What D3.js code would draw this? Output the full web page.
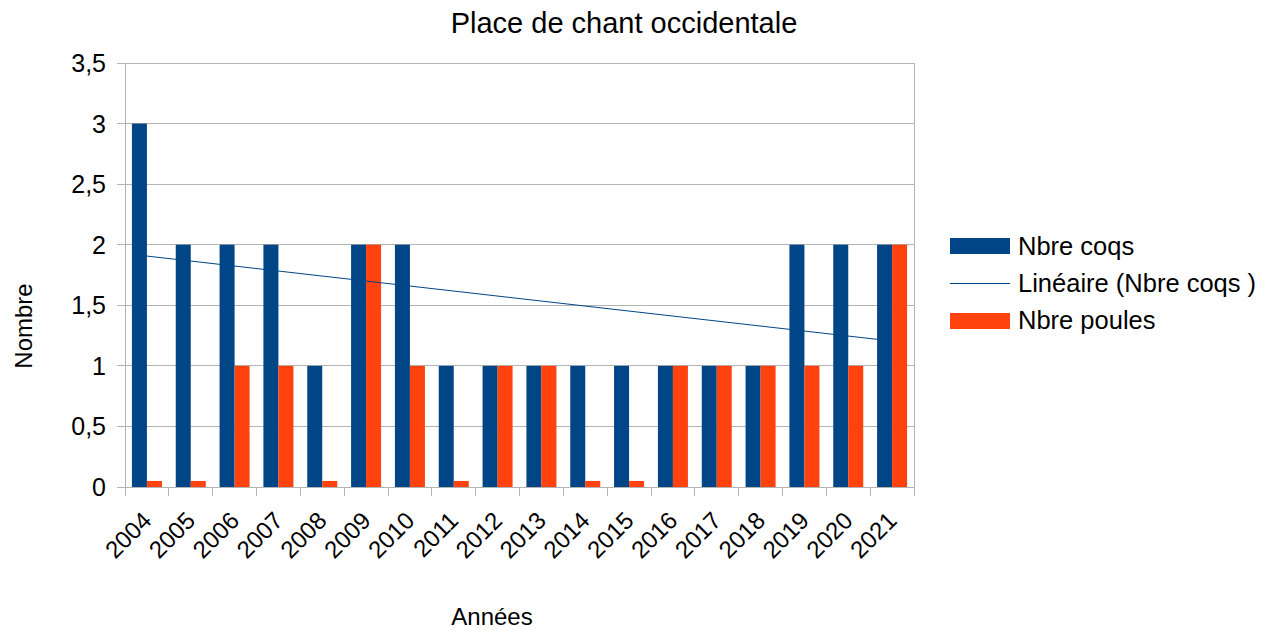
<!DOCTYPE html>
<html><head><meta charset="utf-8">
<script src="https://cdn.jsdelivr.net/npm/d3@7"></script>
<style>body{margin:0;background:#fff}svg{display:block;font-family:"Liberation Sans",Arial,sans-serif}</style>
</head><body><svg id="c" width="1271" height="633"></svg>
<script>
const years = ["2004","2005","2006","2007","2008","2009","2010","2011","2012","2013","2014","2015","2016","2017","2018","2019","2020","2021"];
const coqs = [3,2,2,2,1,2,2,1,1,1,1,1,1,1,1,2,2,2];
const poules = [0.05,0.05,1,1,0.05,2,1,0.05,1,1,0.05,0.05,1,1,1,1,1,2];
const yTicks = [0,0.5,1,1.5,2,2.5,3,3.5];
const seriesNames = ["Nbre coqs","Linéaire (Nbre coqs )","Nbre poules"];
const colors = {coqs:"#004586", poules:"#ff420e"};

const svg = d3.select("#c");
const L=125,R=914,T=63,B=487;
const x = d3.scaleBand().domain(years).range([L,R]);
const y = d3.scaleLinear().domain([0,3.5]).range([B,T]);
const bw = 15;

// grid
svg.append("g").selectAll("line").data(yTicks).join("line")
  .attr("x1",L-8).attr("x2",R).attr("y1",d=>y(d)).attr("y2",d=>y(d))
  .attr("stroke","#b3b3b3").attr("stroke-width",1).attr("shape-rendering","crispEdges");
svg.append("line").attr("x1",L).attr("x2",L).attr("y1",T).attr("y2",B+9).attr("stroke","#b3b3b3").attr("shape-rendering","crispEdges");
svg.append("line").attr("x1",R).attr("x2",R).attr("y1",T).attr("y2",B+9).attr("stroke","#b3b3b3").attr("shape-rendering","crispEdges");
svg.append("g").selectAll("line").data(years.slice(1)).join("line")
  .attr("x1",d=>x(d)).attr("x2",d=>x(d)).attr("y1",B).attr("y2",B+9)
  .attr("stroke","#b3b3b3").attr("shape-rendering","crispEdges");

// bars
const bars = svg.append("g");
years.forEach((yr,i)=>{
  const c = x(yr)+x.bandwidth()/2;
  bars.append("rect").attr("x",c-bw).attr("width",bw).attr("y",y(coqs[i])).attr("height",B-y(coqs[i])).attr("fill",colors.coqs);
  bars.append("rect").attr("x",c).attr("width",bw).attr("y",y(poules[i])).attr("height",B-y(poules[i])).attr("fill",colors.poules);
});
svg.append("line").attr("x1",L-8).attr("x2",R).attr("y1",B).attr("y2",B).attr("stroke","#b3b3b3").attr("shape-rendering","crispEdges");

// linear trend
const n=coqs.length, xs=d3.range(n);
const mx=d3.mean(xs), my=d3.mean(coqs);
const slope=d3.sum(xs,i=>(i-mx)*(coqs[i]-my))/d3.sum(xs,i=>(i-mx)*(i-mx));
const icp=my-slope*mx;
svg.append("line")
  .attr("x1",x(years[0])+x.bandwidth()/2).attr("y1",y(icp))
  .attr("x2",x(years[n-1])+x.bandwidth()/2).attr("y2",y(icp+slope*(n-1)))
  .attr("stroke",colors.coqs).attr("stroke-width",1);

// y labels
svg.append("g").selectAll("text").data(yTicks).join("text")
  .attr("x",L-19).attr("y",d=>y(d)).attr("dy","0.36em").attr("text-anchor","end")
  .attr("font-size",25).attr("fill","#000").text(d=>String(d).replace(".",","));
// x labels
svg.append("g").selectAll("text").data(years).join("text")
  .attr("transform",d=>`translate(${x(d)+x.bandwidth()/2+6},${B+35}) rotate(-45)`)
  .attr("text-anchor","end")
  .attr("font-size",24).attr("fill","#000").text(d=>d);

// titles
svg.append("text").attr("x",624).attr("y",33).attr("text-anchor","middle").attr("font-size",29).text("Place de chant occidentale");
svg.append("text").attr("transform","translate(32,326) rotate(-90)").attr("text-anchor","middle").attr("font-size",24).text("Nombre");
svg.append("text").attr("x",492).attr("y",625).attr("text-anchor","middle").attr("font-size",24).text("Années");

// legend
const lg = svg.append("g");
lg.append("rect").attr("x",950).attr("y",238).attr("width",60).attr("height",16).attr("fill",colors.coqs);
lg.append("line").attr("x1",950).attr("x2",1010).attr("y1",283.5).attr("y2",283.5).attr("stroke",colors.coqs).attr("stroke-width",1);
lg.append("rect").attr("x",950).attr("y",313).attr("width",60).attr("height",16).attr("fill",colors.poules);
[[255,0],[292,1],[329,2]].forEach(([yy,i])=>{
  lg.append("text").attr("x",1018).attr("y",yy).attr("font-size",25.5).text(seriesNames[i]);
});
</script></body></html>
